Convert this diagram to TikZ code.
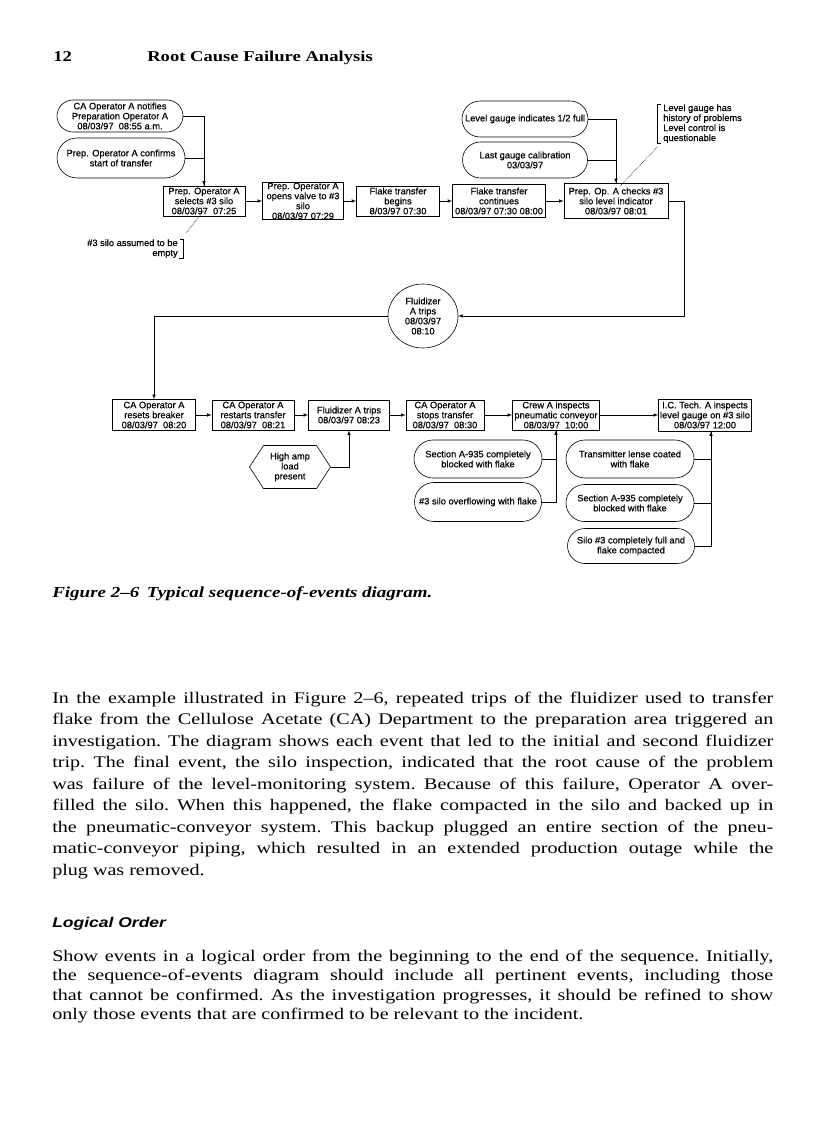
\documentclass[tikz,border=0pt]{standalone}
\usepackage{fontspec}
\setmainfont[FakeStretch=1.24]{Liberation Serif}
\setsansfont[FakeStretch=1.24]{Liberation Sans}
\newfontfamily\diagfont[FakeBold=0.4]{Liberation Sans}
\usepackage{tikz}
\usetikzlibrary{shapes.geometric,shapes.misc,shapes.symbols}
\newcommand{\diag}{\diagfont\fontsize{9.3}{10}\selectfont}
\newcommand{\bodyfont}{\rmfamily\fontsize{16.2}{21.5}\selectfont\frenchspacing}
\newcommand{\bodyfontb}{\rmfamily\fontsize{16.2}{19.5}\selectfont\frenchspacing}
\newcommand{\jline}[1]{\hbox to 721pt{\spaceskip=0.25em plus 0.6em minus 0.08em\relax #1}}

\begin{document}
\begin{tikzpicture}[x=1pt,y=-1pt,line width=0.6pt,>=latex]
\tikzstyle{every node}+=[inner sep=0pt]
\tikzstyle{event}=[draw, rectangle, align=center, font=\diag, minimum height=30pt]
\tikzstyle{cause}=[draw, rounded rectangle, align=center, font=\diag, minimum width=127pt, minimum height=37pt]
\tikzstyle{remark}=[font=\diag]
\fill[white] (0,0) rectangle (816,1123);
\useasboundingbox (0,0) rectangle (816,1123);
% running head
\node[anchor=base west, font=\bfseries\fontsize{15}{18}\selectfont] (pno) at (53,62) {12};
\node[anchor=base west, font=\bfseries\fontsize{15}{18}\selectfont] (head) at (147,62) {Root Cause Failure Analysis};
% first row
\node[cause, minimum width=126pt, minimum height=32pt] (notify) at (120,116) {CA Operator A notifies\\Preparation Operator A\\08/03/97\ \ 08:55 a.m.};
\node[cause, minimum width=128pt, minimum height=40pt] (confirm) at (121,158) {Prep. Operator A confirms\\start of transfer};
\node[event, minimum width=82pt] (sel) at (204,201) {Prep. Operator A\\selects \#3 silo\\08/03/97\ \ 07:25};
\node[event, minimum width=81pt, minimum height=34pt] (valve) at (303,201) {Prep. Operator A\\opens valve to \#3\\silo\\08/03/97 07:29};
\node[event, minimum width=83pt] (begins) at (398,201) {Flake transfer\\begins\\8/03/97 07:30};
\node[event, minimum width=93pt, minimum height=33pt] (cont) at (499,201) {Flake transfer\\continues\\08/03/97 07:30 08:00};
\node[event, minimum width=104pt, minimum height=35pt] (check) at (616,201) {Prep. Op. A checks \#3\\silo level indicator\\08/03/97 08:01};
\node[cause, minimum width=126pt, minimum height=36pt] (half) at (525,119) {Level gauge indicates 1/2 full};
\node[cause, minimum width=125pt, minimum height=36pt] (calib) at (525,160) {Last gauge calibration\\03/03/97};
\node[remark, align=left, anchor=north west] (gnote) at (663,104) {Level gauge has\\history of problems\\Level control is\\questionable};
\node[remark, align=right, anchor=north east] (snote) at (178,239) {\#3 silo assumed to be\\empty};
% fluidizer trips
\node[draw, ellipse, align=center, font=\diag, minimum width=70pt, minimum height=64pt] (fluid) at (423,316) {Fluidizer\\A trips\\08/03/97\\08:10};
% second row
\node[event, minimum width=83pt, minimum height=31pt] (resets) at (154,415) {CA Operator A\\resets breaker\\08/03/97\ \ 08:20};
\node[event, minimum width=82pt] (restart) at (253,415) {CA Operator A\\restarts transfer\\08/03/97\ \ 08:21};
\node[event, minimum width=81pt] (ftrips) at (349,415) {Fluidizer A trips\\08/03/97 08:23};
\node[event, minimum width=78pt] (stops) at (445,415) {CA Operator A\\stops transfer\\08/03/97\ \ 08:30};
\node[event, minimum width=87pt] (crew) at (556,415) {Crew A inspects\\pneumatic conveyor\\08/03/97\ \ 10:00};
\node[event, minimum width=93pt, minimum height=32pt] (ictech) at (705,415) {I.C. Tech. A inspects\\level gauge on \#3 silo\\08/03/97 12:00};
\node[draw, signal, signal to=east and west, signal pointer angle=114, align=center, font=\diag, minimum width=81pt, minimum height=43pt] (amp) at (290,467) {High amp\\load\\present};
\node[cause, minimum width=128pt, minimum height=38pt] (blockA) at (478,459) {Section A-935 completely\\blocked with flake};
\node[cause, minimum width=127pt, minimum height=39pt] (overflow) at (478,502) {\#3 silo overflowing with flake};
\node[cause, minimum width=128pt, minimum height=38pt] (lense) at (630,459) {Transmitter lense coated\\with flake};
\node[cause, minimum width=128pt, minimum height=37pt] (blockB) at (630,503) {Section A-935 completely\\blocked with flake};
\node[cause, minimum width=127pt, minimum height=35pt] (full) at (631,546) {Silo \#3 completely full and\\flake compacted};
% connectors
\draw[->] (notify.east) -| (sel.north);
\draw (confirm.east) -| (sel.north);
\draw[->] (sel.east) -- (valve.west);
\draw[->] (valve.east) -- (begins.west);
\draw[->] (begins.east) -- (cont.west);
\draw[->] (cont.east) -- (check.west);
\draw[->] (half.east) -| (check.north);
\draw (calib.east) -| (check.north);
\draw ([xshift=-2pt]gnote.north west) -| ([xshift=-6pt]gnote.south west) -- ++(4,0);
\draw[densely dotted] ([xshift=-6pt,yshift=-4pt]gnote.south west) -- ([xshift=4pt,yshift=-3pt]check.north);
\draw ([xshift=2pt]snote.north east) -| ([xshift=5pt]snote.south east) -- ++(-4,0);
\draw[densely dotted] ([xshift=8pt,yshift=6pt]snote.north east) -- ([yshift=6pt]sel.south);
\draw[->] (check.east) -- ++(16,0) |- (fluid.east);
\draw[->] (fluid.west) -| (resets.north);
\draw[->] (resets.east) -- (restart.west);
\draw[->] (restart.east) -- (ftrips.west);
\draw[->] (ftrips.east) -- (stops.west);
\draw[->] (stops.east) -- (crew.west);
\draw[->] (crew.east) -- (ictech.west);
\draw[->] (amp.east) -| (ftrips.south);
\draw[->] (blockA.east) -| (crew.south);
\draw (overflow.east) -| (crew.south);
\draw[->] (lense.east) -| ([xshift=6pt]ictech.south);
\draw (blockB.east) -| ([xshift=6pt]ictech.south);
\draw (full.east) -| ([xshift=6pt]ictech.south);
% caption and text
\node[anchor=base west, font=\bfseries\itshape\fontsize{15.3}{18}\selectfont] (cap) at (52,597.5) {Figure 2–6\enspace Typical sequence-of-events diagram.};
\node[anchor=base west, font=\bodyfont, text width=721pt, align=justify] (para1) at (52,703) {%
\jline{In the example illustrated in Figure 2–6, repeated trips of the fluidizer used to transfer}
\jline{flake from the Cellulose Acetate (CA) Department to the preparation area triggered an}
\jline{investigation. The diagram shows each event that led to the initial and second fluidizer}
\jline{trip. The final event, the silo inspection, indicated that the root cause of the problem}
\jline{was failure of the level-monitoring system. Because of this failure, Operator A over-}
\jline{filled the silo. When this happened, the flake compacted in the silo and backed up in}
\jline{the pneumatic-conveyor system. This backup plugged an entire section of the pneu-}
\jline{matic-conveyor piping, which resulted in an extended production outage while the}
\hbox{plug was removed.}};
\node[anchor=base west, font=\sffamily\bfseries\itshape\fontsize{14.1}{17}\selectfont] (sec) at (52,927) {Logical Order};
\node[anchor=base west, font=\bodyfontb, text width=721pt, align=justify] (para2) at (52,961) {%
\jline{Show events in a logical order from the beginning to the end of the sequence. Initially,}
\jline{the sequence-of-events diagram should include all pertinent events, including those}
\jline{that cannot be confirmed. As the investigation progresses, it should be refined to show}
\hbox{only those events that are confirmed to be relevant to the incident.}};
\end{tikzpicture}
\end{document}
